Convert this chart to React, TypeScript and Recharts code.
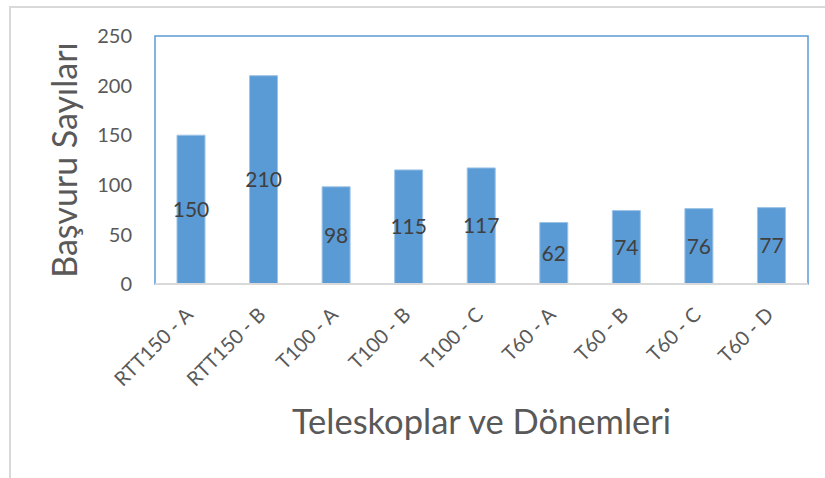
import React from "react";
import { BarChart, Bar, XAxis, YAxis, LabelList, ReferenceArea } from "recharts";

const categories = [
  "RTT150 - A",
  "RTT150 - B",
  "T100 - A",
  "T100 - B",
  "T100 - C",
  "T60 - A",
  "T60 - B",
  "T60 - C",
  "T60 - D",
];
const values = [150, 210, 98, 115, 117, 62, 74, 76, 77];
const yTicks = [0, 50, 100, 150, 200, 250];

const data = categories.map((c, i) => ({ name: c, value: values[i] }));

const FONT = "Lato, Carlito, 'Open Sans', sans-serif";

const XTick = (props: any) => {
  const { x, y, payload } = props;
  return (
    <g transform={`translate(${x + 3},${y + 24})`}>
      <text
        transform="rotate(-45)"
        textAnchor="end"
        fontSize={20}
        fill="#595959"
        fontFamily={FONT}
      >
        {payload.value}
      </text>
    </g>
  );
};

export default function App() {
  return (
    <div style={{ position: "relative", width: 825, height: 478, background: "#fff", fontFamily: FONT }}>
      <style>{"body{margin:0}"}</style>
      <div
        style={{
          position: "absolute",
          left: 9,
          top: 6,
          right: -10,
          bottom: -10,
          borderTop: "2px solid #d9d9d9",
          borderLeft: "2px solid #d9d9d9",
        }}
      />
      <div style={{ position: "absolute", left: 0, top: 0 }}>
        <BarChart
          width={825}
          height={478}
          data={data}
          margin={{ top: 36, right: 17, left: 0, bottom: 0 }}
          barCategoryGap={0}
        >
          <XAxis
            dataKey="name"
            type="category"
            height={194}
            tickLine={false}
            axisLine={{ stroke: "#d9d9d9", strokeWidth: 2 }}
            tick={<XTick />}
            interval={0}
            label={{
              value: "Teleskoplar ve Dönemleri",
              position: "insideBottom",
              offset: 44,
              fontSize: 34.5,
              fill: "#595959",
              fontFamily: FONT,
            }}
          />
          <YAxis
            type="number"
            domain={[0, 250]}
            ticks={yTicks}
            width={155}
            tickLine={false}
            axisLine={false}
            tickSize={0}
            tickMargin={23}
            tick={{ fontSize: 20, fill: "#595959", fontFamily: FONT }}
            label={{
              value: "Başvuru Sayıları",
              angle: -90,
              position: "insideLeft",
              offset: 65,
              fontSize: 34,
              fill: "#595959",
              fontFamily: FONT,
              style: { textAnchor: "middle" },
            }}
          />
          <Bar
            dataKey="value"
            fill="#5b9bd5"
            stroke="#9dc3e6"
            strokeWidth={1}
            barSize={28}
            isAnimationActive={false}
          >
            <LabelList
              dataKey="value"
              position="center"
              fontSize={21}
              fill="#404040"
              fontFamily={FONT}
            />
          </Bar>
          <ReferenceArea
            y1={0}
            y2={250}
            fill="none"
            fillOpacity={0}
            stroke="#5b9bd5"
            strokeWidth={1.5}
            ifOverflow="visible"
          />
        </BarChart>
      </div>
    </div>
  );
}
